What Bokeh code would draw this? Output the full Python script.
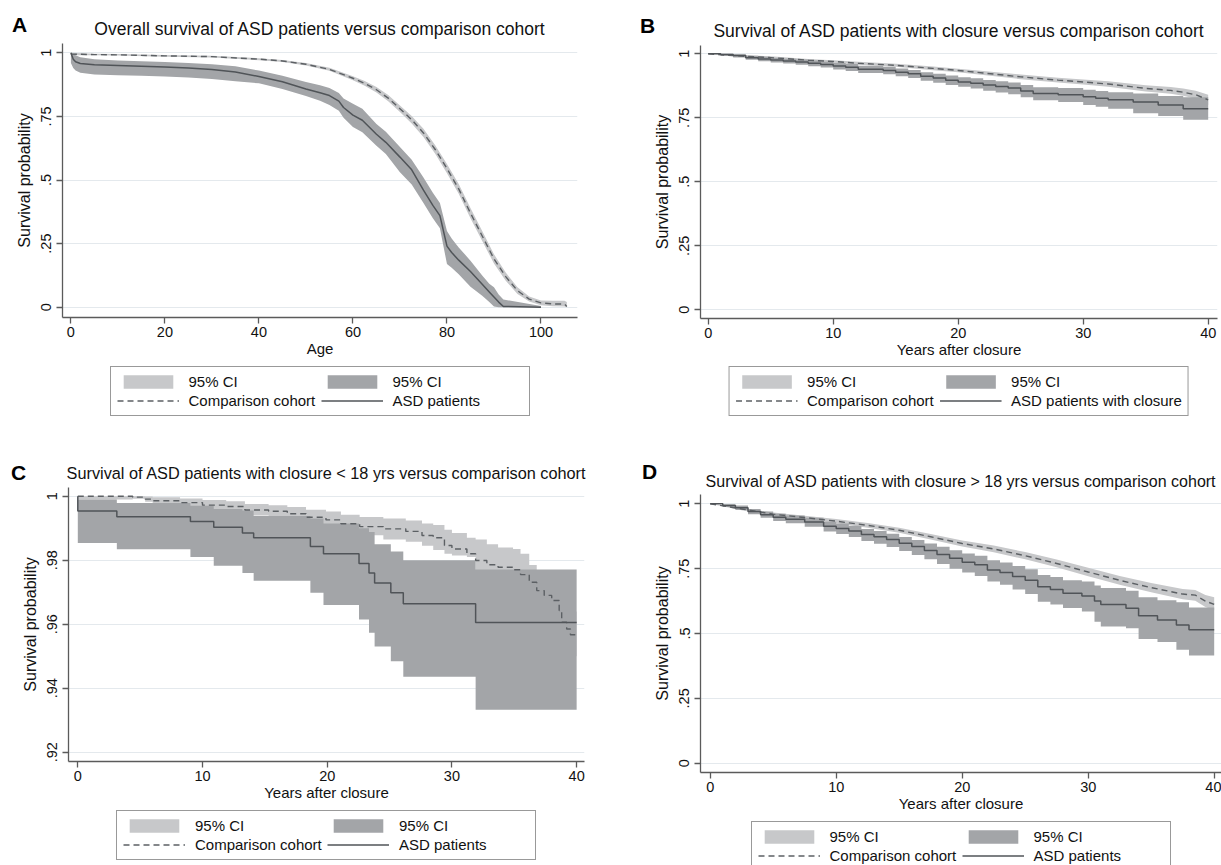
from bokeh.plotting import figure
from bokeh.layouts import column, row
from bokeh.models import ColumnDataSource, Range1d, FixedTicker, Legend, LegendItem, Title, Div
from bokeh.embed import file_html
from bokeh.resources import INLINE

FONT = "Liberation Sans"
LIGHT = "#c7c8ca"
DARK = "#a3a5a8"
LINE_ASD = "#505458"
LINE_CMP = "#5c6064"
AXIS = "#5b5b5b"
GRID = "#e4e9ed"
TXT = "#111111"

# ---------------- Panel A data (age) ----------------
a_asd_x = [0, 0.5, 1, 2, 5, 10, 15, 20, 25, 30, 35, 40, 45, 50, 53, 55, 57, 58, 60, 62, 65, 67, 70, 72.5, 75, 77, 78.5, 80, 81, 82.5, 85, 87.5, 89, 90, 91, 92, 100]
a_asd_y = [1.0, 0.975, 0.965, 0.958, 0.953, 0.95, 0.947, 0.944, 0.94, 0.934, 0.925, 0.907, 0.886, 0.858, 0.843, 0.832, 0.81, 0.785, 0.755, 0.735, 0.68, 0.648, 0.59, 0.54, 0.46, 0.40, 0.36, 0.24, 0.215, 0.185, 0.14, 0.09, 0.06, 0.04, 0.02, 0.003, 0.0]
a_asd_hi = [1.0, 0.995, 0.99, 0.983, 0.975, 0.97, 0.967, 0.964, 0.96, 0.955, 0.947, 0.93, 0.91, 0.885, 0.872, 0.862, 0.842, 0.82, 0.8, 0.78, 0.72, 0.69, 0.63, 0.58, 0.51, 0.45, 0.41, 0.30, 0.27, 0.235, 0.183, 0.125, 0.092, 0.078, 0.05, 0.03, 0.005]
a_asd_lo = [0.96, 0.94, 0.93, 0.922, 0.915, 0.912, 0.91, 0.907, 0.903, 0.897, 0.888, 0.88, 0.858, 0.83, 0.812, 0.795, 0.772, 0.745, 0.708, 0.688, 0.635, 0.602, 0.53, 0.482, 0.41, 0.35, 0.31, 0.17, 0.155, 0.13, 0.08, 0.045, 0.02, 0.003, 0.0, 0.0, 0.0]
a_cmp_x = [0, 5, 10, 20, 30, 40, 45, 50, 55, 60, 62.5, 65, 67.5, 70, 72.5, 75, 77.5, 80, 82.5, 85, 87.5, 90, 92.5, 95, 97.5, 100, 102.5, 105, 105.5]
a_cmp_y = [0.995, 0.993, 0.992, 0.988, 0.985, 0.975, 0.968, 0.955, 0.935, 0.90, 0.88, 0.855, 0.822, 0.78, 0.737, 0.685, 0.62, 0.545, 0.465, 0.37, 0.28, 0.19, 0.12, 0.065, 0.032, 0.017, 0.013, 0.012, 0.003]
a_cmp_hi = [1.0, 0.996, 0.995, 0.991, 0.988, 0.979, 0.972, 0.96, 0.941, 0.908, 0.889, 0.866, 0.834, 0.793, 0.752, 0.701, 0.637, 0.563, 0.484, 0.39, 0.3, 0.208, 0.136, 0.078, 0.042, 0.026, 0.025, 0.025, 0.02]
a_cmp_lo = [0.99, 0.99, 0.989, 0.985, 0.982, 0.971, 0.964, 0.95, 0.929, 0.892, 0.871, 0.844, 0.81, 0.767, 0.722, 0.669, 0.603, 0.527, 0.446, 0.35, 0.26, 0.172, 0.104, 0.052, 0.022, 0.008, 0.004, 0.003, 0.0]

# ---------------- Panel B data (years after closure) ----------------
b_cmp_x = [0, 2, 5, 8, 10, 12, 15, 18, 20, 22, 25, 28, 30, 32, 35, 37, 38, 39, 40]
b_cmp_y = [1.0, 0.993, 0.985, 0.975, 0.97, 0.963, 0.955, 0.943, 0.935, 0.925, 0.91, 0.897, 0.89, 0.882, 0.865, 0.857, 0.85, 0.84, 0.82]
b_cmp_hi = [1.0, 0.996, 0.99, 0.98, 0.975, 0.969, 0.961, 0.95, 0.942, 0.933, 0.919, 0.906, 0.9, 0.893, 0.877, 0.87, 0.864, 0.856, 0.84]
b_cmp_lo = [1.0, 0.99, 0.98, 0.97, 0.965, 0.957, 0.949, 0.936, 0.928, 0.917, 0.901, 0.888, 0.88, 0.871, 0.853, 0.844, 0.836, 0.824, 0.80]
b_asd_x = [0, 1, 2, 3, 4, 5, 6, 7, 8, 9, 10, 11, 12, 14, 15, 16, 17, 18, 19, 20, 21, 22, 23, 24, 25, 26, 28, 30, 31, 32, 34, 36, 38, 40]
b_asd_y = [1.0, 0.997, 0.993, 0.985, 0.98, 0.976, 0.972, 0.968, 0.963, 0.958, 0.952, 0.947, 0.94, 0.935, 0.928, 0.922, 0.912, 0.905, 0.897, 0.89, 0.885, 0.878, 0.872, 0.866, 0.855, 0.845, 0.84, 0.832, 0.826, 0.82, 0.812, 0.80, 0.785, 0.785]
b_asd_hi = [1.0, 1.0, 0.998, 0.992, 0.988, 0.984, 0.981, 0.978, 0.974, 0.969, 0.964, 0.96, 0.953, 0.949, 0.943, 0.937, 0.928, 0.922, 0.915, 0.908, 0.904, 0.898, 0.893, 0.888, 0.878, 0.869, 0.866, 0.86, 0.855, 0.85, 0.845, 0.835, 0.83, 0.83]
b_asd_lo = [1.0, 0.992, 0.986, 0.977, 0.971, 0.966, 0.962, 0.957, 0.951, 0.946, 0.939, 0.933, 0.925, 0.92, 0.912, 0.905, 0.895, 0.887, 0.878, 0.871, 0.864, 0.856, 0.849, 0.842, 0.83, 0.819, 0.812, 0.80, 0.793, 0.785, 0.768, 0.757, 0.742, 0.742]

# ---------------- Panel C data (closure < 18 yrs) ----------------
c_asd_x = [0, 0, 3.13, 9.03, 10.9, 13.2, 14.1, 18.65, 19.7, 22.55, 23.35, 23.8, 25.1, 26.1, 31.9, 40]
c_asd_y = [1.0, 0.9954, 0.9936, 0.9921, 0.9903, 0.9885, 0.987, 0.9843, 0.982, 0.979, 0.976, 0.9729, 0.9698, 0.9664, 0.9605, 0.9605]
c_band_x = [0, 3.13, 9.03, 10.9, 13.2, 14.1, 18.65, 19.7, 22.55, 23.35, 23.8, 25.1, 26.1, 31.9, 40]
c_asd_hi = [0.999, 0.9979, 0.997, 0.996, 0.9955, 0.9938, 0.993, 0.9915, 0.99, 0.9888, 0.985, 0.9827, 0.980, 0.9771, 0.9771]
c_asd_lo = [0.9854, 0.9834, 0.981, 0.9783, 0.976, 0.9736, 0.9698, 0.966, 0.9615, 0.9573, 0.953, 0.9484, 0.9436, 0.9333, 0.9333]
c_cmp_x = [0, 4.4, 5.4, 6.0, 8.2, 10.0, 11.9, 13.4, 15.3, 16.8, 18.3, 19.9, 21.1, 22.6, 24.5, 26.3, 27.6, 28.5, 29.4, 30.0, 31.2, 31.9, 32.8, 33.7, 34.9, 35.5, 36.2, 36.8, 37.4, 38.0, 38.6, 38.8, 39.2, 39.5, 40.0]
c_cmp_y = [1.0, 0.9997, 0.9991, 0.9986, 0.998, 0.9972, 0.9968, 0.9957, 0.9953, 0.9945, 0.9934, 0.9926, 0.9914, 0.9905, 0.9898, 0.989, 0.9877, 0.987, 0.9846, 0.9835, 0.982, 0.9799, 0.9786, 0.9778, 0.977, 0.9755, 0.9731, 0.9705, 0.969, 0.9674, 0.9643, 0.9606, 0.9585, 0.9567, 0.9567]
c_cmp_hi = [1.0, 1.0, 0.9999, 0.9997, 0.9993, 0.9988, 0.9984, 0.9976, 0.9972, 0.9966, 0.9958, 0.9952, 0.9942, 0.9935, 0.993, 0.9924, 0.9915, 0.991, 0.9895, 0.9885, 0.987, 0.9865, 0.985, 0.984, 0.9835, 0.982, 0.9785, 0.976, 0.975, 0.974, 0.971, 0.968, 0.966, 0.964, 0.964]
c_cmp_lo = [0.999, 0.9992, 0.9983, 0.9976, 0.9968, 0.9957, 0.9952, 0.994, 0.9935, 0.9925, 0.9912, 0.9902, 0.9888, 0.9878, 0.9865, 0.9858, 0.9845, 0.9832, 0.982, 0.9815, 0.981, 0.9765, 0.975, 0.974, 0.973, 0.9715, 0.969, 0.966, 0.964, 0.962, 0.958, 0.954, 0.952, 0.95, 0.95]

# ---------------- Panel D data (closure > 18 yrs) ----------------
d_cmp_x = [0, 2.5, 5, 7.5, 10, 12.5, 15, 17.5, 20, 22.5, 25, 27.5, 30, 32.5, 35, 37.5, 38.5, 39.3, 40]
d_cmp_y = [1.0, 0.98, 0.96, 0.947, 0.933, 0.917, 0.898, 0.873, 0.847, 0.826, 0.80, 0.77, 0.737, 0.705, 0.677, 0.652, 0.648, 0.625, 0.612]
d_cmp_hi = [1.0, 0.985, 0.966, 0.954, 0.941, 0.926, 0.908, 0.884, 0.859, 0.839, 0.814, 0.785, 0.753, 0.722, 0.695, 0.672, 0.668, 0.648, 0.64]
d_cmp_lo = [1.0, 0.975, 0.954, 0.94, 0.925, 0.908, 0.888, 0.862, 0.835, 0.813, 0.786, 0.755, 0.721, 0.688, 0.659, 0.632, 0.626, 0.602, 0.59]
d_asd_x = [0, 1, 2, 3, 4, 5, 6, 7.5, 9, 10, 11, 12, 13, 14, 15, 16, 17, 18, 19, 20, 21, 22, 23, 24, 25, 26, 27, 28, 29.5, 30.5, 31, 33, 34, 35.5, 37, 38, 40]
d_asd_y = [1.0, 0.993, 0.985, 0.97, 0.958, 0.948, 0.94, 0.93, 0.913, 0.905, 0.895, 0.882, 0.873, 0.862, 0.848, 0.835, 0.82, 0.805, 0.79, 0.775, 0.765, 0.745, 0.735, 0.72, 0.705, 0.68, 0.67, 0.655, 0.645, 0.625, 0.612, 0.597, 0.568, 0.552, 0.533, 0.514, 0.514]
d_asd_hi = [1.0, 0.998, 0.993, 0.98, 0.97, 0.962, 0.955, 0.946, 0.931, 0.924, 0.915, 0.903, 0.895, 0.885, 0.872, 0.86, 0.847, 0.834, 0.821, 0.808, 0.8, 0.782, 0.774, 0.76, 0.748, 0.726, 0.718, 0.705, 0.7, 0.685, 0.675, 0.665, 0.64, 0.628, 0.62, 0.6, 0.6]
d_asd_lo = [1.0, 0.988, 0.976, 0.96, 0.946, 0.934, 0.925, 0.912, 0.893, 0.884, 0.872, 0.857, 0.846, 0.833, 0.818, 0.803, 0.786, 0.768, 0.75, 0.735, 0.722, 0.7, 0.688, 0.67, 0.652, 0.622, 0.612, 0.598, 0.585, 0.545, 0.527, 0.52, 0.479, 0.467, 0.437, 0.415, 0.415]

# ---------------- Text / ticks ----------------
titles = ["Overall survival of ASD patients versus comparison cohort",
          "Survival of ASD patients with closure versus comparison cohort",
          "Survival of ASD patients with closure < 18 yrs versus comparison cohort",
          "Survival of ASD patients with closure > 18 yrs versus comparison cohort"]
letters = ["A", "B", "C", "D"]
xlabels = ["Age", "Years after closure", "Years after closure", "Years after closure"]
ylabel = "Survival probability"
age_ticks = [0, 20, 40, 60, 80, 100]
year_ticks = [0, 10, 20, 30, 40]
prob_ticks = [0, 0.25, 0.5, 0.75, 1]
prob_labels = ["0", ".25", ".5", ".75", "1"]
c_ticks = [0.92, 0.94, 0.96, 0.98, 1.0]
c_labels = [".92", ".94", ".96", ".98", "1"]
legend_cmp = "Comparison cohort"
legend_asd = ["ASD patients", "ASD patients with closure", "ASD patients", "ASD patients"]
ci_label = "95% CI"


def make_panel(width, height, frame, xr, yr, xticks, yticks, ylabs, xlabel, title, tsize, tstandoff):
    fl, fr, ft, fb = frame
    p = figure(width=width, height=height, x_range=Range1d(*xr), y_range=Range1d(*yr),
               min_border_left=fl, min_border_right=width - fr, min_border_top=ft,
               min_border_bottom=height - fb, toolbar_location=None, tools="",
               output_backend="svg", background_fill_color="white", border_fill_color="white")
    p.outline_line_color = None
    p.add_layout(Title(text=title, align="center", text_font=FONT, text_font_size=tsize,
                       text_font_style="normal", text_color=TXT, standoff=tstandoff), "above")
    xa = p.xaxis[0]
    ya = p.yaxis[0]
    for ax in (xa, ya):
        ax.axis_line_color = AXIS
        ax.axis_line_width = 1.3
        ax.major_tick_line_color = AXIS
        ax.major_tick_line_width = 1.3
        ax.major_tick_out = 6
        ax.major_tick_in = 0
        ax.minor_tick_line_color = None
        ax.major_label_text_font = FONT
        ax.major_label_text_font_size = "14.5px"
        ax.major_label_text_color = TXT
        ax.axis_label_text_font = FONT
        ax.axis_label_text_font_style = "normal"
        ax.axis_label_text_color = TXT
    xa.ticker = FixedTicker(ticks=xticks)
    ya.ticker = FixedTicker(ticks=yticks)
    ya.major_label_overrides = {t: l for t, l in zip(yticks, ylabs)}
    ya.major_label_orientation = "vertical"
    xa.axis_label = xlabel
    ya.axis_label = ylabel
    xa.axis_label_text_font_size = "15px"
    ya.axis_label_text_font_size = "16px"
    xa.axis_label_standoff = 0
    ya.axis_label_standoff = 6
    xa.major_label_standoff = 3
    ya.major_label_standoff = 5
    p.xgrid.visible = False
    p.ygrid.ticker = FixedTicker(ticks=yticks)
    p.ygrid.grid_line_color = GRID
    p.ygrid.grid_line_width = 1
    return p


def legend_panel(width, height, bl, br, asd_label, cmp_src, band_src, line_src):
    # a separate, axis-less figure that only carries the legend box; its view range
    # lies outside the data, so only the legend samples are visible
    f = figure(width=width, height=height, x_range=Range1d(-1000, -999), y_range=Range1d(0, 1),
               min_border_left=bl, min_border_right=br, min_border_top=0, min_border_bottom=0,
               toolbar_location=None, tools="", output_backend="svg",
               x_axis_type=None, y_axis_type=None,
               background_fill_color="white", border_fill_color="white")
    f.outline_line_color = None
    r_l = f.varea(x="x", y1="lo", y2="hi", source=cmp_src, fill_color=LIGHT)
    r_d = f.varea(x="x", y1="lo", y2="hi", source=band_src, fill_color=DARK)
    r_c = f.line(x="x", y="y", source=cmp_src, line_color=LINE_CMP, line_width=1.4, line_dash="6 4")
    r_a = f.line(x="x", y="y", source=line_src, line_color=LINE_ASD, line_width=1.5)
    lg = Legend(items=[LegendItem(label=ci_label, renderers=[r_l]), LegendItem(label=ci_label, renderers=[r_d]),
                       LegendItem(label=legend_cmp, renderers=[r_c]), LegendItem(label=asd_label, renderers=[r_a])],
                location="top_center", orientation="horizontal", ncols=2,
                border_line_color="#333333", border_line_width=1, background_fill_color="white",
                background_fill_alpha=1.0, padding=6, spacing=2, margin=0,
                glyph_width=62, glyph_height=17, label_standoff=10, label_height=15,
                label_width=130, label_text_font=FONT, label_text_font_size="15px",
                label_text_color=TXT)
    f.add_layout(lg)
    return f


def letter_div(text, left, top):
    return Div(text=text, width=26, height=26, margin=0,
               styles={"position": "absolute", "left": f"{left}px", "top": f"{top}px",
                       "z-index": "10", "font-family": FONT, "font-weight": "bold",
                       "font-size": "21px", "line-height": "21px", "color": "#000000"})


# ---------- Panel A ----------
pA = make_panel(600, 366, (62, 577, 43, 317), (-1.787, 107.77), (-0.0405, 1.0366),
                age_ticks, prob_ticks, prob_labels, xlabels[0], titles[0], "17.5px", 9)
srcA1 = ColumnDataSource(dict(x=a_cmp_x, y=a_cmp_y, hi=a_cmp_hi, lo=a_cmp_lo))
srcA2 = ColumnDataSource(dict(x=a_asd_x, y=a_asd_y, hi=a_asd_hi, lo=a_asd_lo))
pA.varea(x="x", y1="lo", y2="hi", source=srcA1, fill_color=LIGHT)
pA.varea(x="x", y1="lo", y2="hi", source=srcA2, fill_color=DARK)
pA.line(x="x", y="y", source=srcA1, line_color=LINE_CMP, line_width=1.4, line_dash="6 4")
pA.line(x="x", y="y", source=srcA2, line_color=LINE_ASD, line_width=1.5)
legA = legend_panel(600, 54, 62, 23, legend_asd[0], srcA1, srcA2, srcA2)

# ---------- Panel B ----------
pB = make_panel(621, 366, (100, 617, 45, 318), (-0.616, 40.744), (-0.034, 1.0324),
                year_ticks, prob_ticks, prob_labels, xlabels[1], titles[1], "17.5px", 9.6)
srcB1 = ColumnDataSource(dict(x=b_cmp_x, y=b_cmp_y, hi=b_cmp_hi, lo=b_cmp_lo))
srcB2 = ColumnDataSource(dict(x=b_asd_x, y=b_asd_y, hi=b_asd_hi, lo=b_asd_lo))
pB.varea(x="x", y1="lo", y2="hi", source=srcB1, fill_color=LIGHT)
pB.varea_step(x="x", y1="lo", y2="hi", source=srcB2, fill_color=DARK, step_mode="after")
pB.line(x="x", y="y", source=srcB1, line_color=LINE_CMP, line_width=1.4, line_dash="6 4")
pB.step(x="x", y="y", source=srcB2, line_color=LINE_ASD, line_width=1.5, mode="after")
legB = legend_panel(621, 54, 100, 4, legend_asd[1], srcB1, srcB2, srcB2)

# ---------- Panel C ----------
pC = make_panel(600, 390, (68, 584, 67, 341), (-0.7458, 40.63), (0.91709, 1.00272),
                year_ticks, c_ticks, c_labels, xlabels[2], titles[2], "16.3px", 11)
srcC1 = ColumnDataSource(dict(x=c_cmp_x, y=c_cmp_y, hi=c_cmp_hi, lo=c_cmp_lo))
srcC2 = ColumnDataSource(dict(x=c_band_x, hi=c_asd_hi, lo=c_asd_lo))
srcC3 = ColumnDataSource(dict(x=c_asd_x, y=c_asd_y))
pC.varea_step(x="x", y1="lo", y2="hi", source=srcC1, fill_color=LIGHT, step_mode="after")
pC.varea_step(x="x", y1="lo", y2="hi", source=srcC2, fill_color=DARK, step_mode="after")
pC.step(x="x", y="y", source=srcC1, line_color=LINE_CMP, line_width=1.4, line_dash="6 4", mode="after")
pC.step(x="x", y="y", source=srcC3, line_color=LINE_ASD, line_width=1.5, mode="after")
legC = legend_panel(600, 55, 68, 16, legend_asd[2], srcC1, srcC2, srcC3)

# ---------- Panel D ----------
pD = make_panel(621, 401, (100, 621, 74, 352), (-0.77, 40.58), (-0.03585, 1.03585),
                year_ticks, prob_ticks, prob_labels, xlabels[3], titles[3], "16px", 9)
srcD1 = ColumnDataSource(dict(x=d_cmp_x, y=d_cmp_y, hi=d_cmp_hi, lo=d_cmp_lo))
srcD2 = ColumnDataSource(dict(x=d_asd_x, y=d_asd_y, hi=d_asd_hi, lo=d_asd_lo))
pD.varea(x="x", y1="lo", y2="hi", source=srcD1, fill_color=LIGHT)
pD.varea_step(x="x", y1="lo", y2="hi", source=srcD2, fill_color=DARK, step_mode="after")
pD.line(x="x", y="y", source=srcD1, line_color=LINE_CMP, line_width=1.4, line_dash="6 4")
pD.step(x="x", y="y", source=srcD2, line_color=LINE_ASD, line_width=1.5, mode="after")
legD = legend_panel(621, 44, 100, 0, legend_asd[3], srcD1, srcD2, srcD2)

divs = [letter_div(letters[0], 12, 14), letter_div(letters[1], 640, 15),
        letter_div(letters[2], 11, 462), letter_div(letters[3], 642, 461)]

layout = column(row(column(pA, legA, spacing=0), column(pB, legB, spacing=0), spacing=0),
                row(column(pC, legC, spacing=0), column(pD, legD, spacing=0), spacing=0),
                *divs, spacing=0)
open("out.html", "w").write(file_html(layout, INLINE))
